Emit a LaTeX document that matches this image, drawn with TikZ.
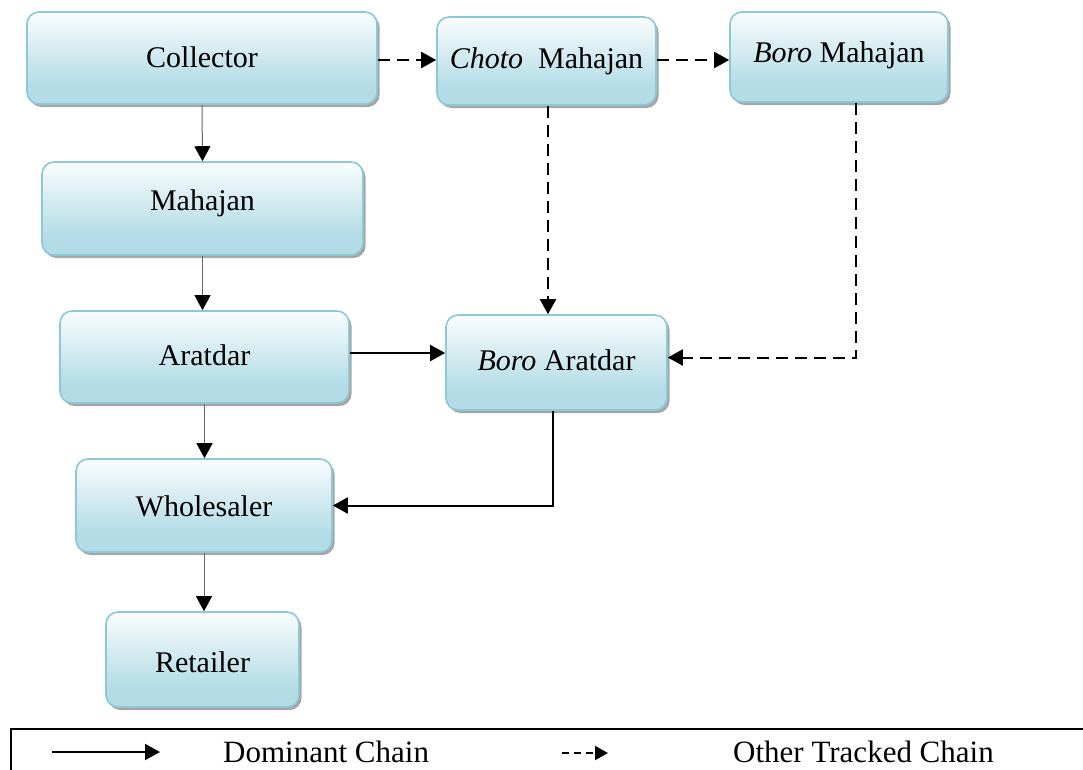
\documentclass[tikz,border=0pt]{standalone}
\usepackage{fontspec}
\setmainfont{Liberation Serif}
\usetikzlibrary{arrows.meta,shadows,calc}
\definecolor{boxline}{HTML}{8CC8D8}
\definecolor{boxblue}{HTML}{B3DCE6}
\pgfdeclareverticalshading{boxshade}{100bp}{color(0bp)=(boxblue); color(35bp)=(boxblue); color(78bp)=(white); color(100bp)=(white)}
\tikzset{
  box/.style={draw=boxline, line width=1.6pt, rounded corners=12pt, shading=boxshade,
    drop shadow={shadow xshift=2.5pt, shadow yshift=-3pt, fill=gray!70, opacity=1},
    inner sep=0pt},
  txt/.style={font=\fontsize{30}{36}\selectfont, inner sep=0pt},
  ltxt/.style={font=\fontsize{31}{37}\selectfont, inner sep=0pt},
  tip/.style={-{Triangle[length=15pt,width=16pt,color=black]}},
  dom/.style={tip, draw=gray!80!black, line width=1pt},
  domb/.style={tip, draw=black, line width=2pt},
  oth/.style={tip, draw=black, line width=2pt, dash pattern=on 12pt off 7pt},
}
\begin{document}
\begin{tikzpicture}[x=1pt,y=-1pt]
\useasboundingbox (0,0) rectangle (1083,769);
% nodes
\node[box, minimum width=350pt, minimum height=92pt, label={[txt,yshift=1pt]center:Collector}] (col) at (202,58) {};
\node[box, minimum width=321pt, minimum height=93pt, label={[txt,yshift=5pt]center:Mahajan}] (mah) at (202.5,208.5) {};
\node[box, minimum width=289pt, minimum height=92pt, label={[txt,yshift=2pt]center:Aratdar}] (ara) at (204.5,357) {};
\node[box, minimum width=221pt, minimum height=95pt, label={[txt,yshift=2pt]center:\textit{Boro} Aratdar}] (bara) at (556.5,362.5) {};
\node[box, minimum width=256pt, minimum height=93pt, label={[txt,yshift=-1pt]center:Wholesaler}] (who) at (204,505.5) {};
\node[box, minimum width=193pt, minimum height=95pt, label={[txt,yshift=-3pt]center:Retailer}] (ret) at (202.5,659.5) {};
\node[box, minimum width=219pt, minimum height=88pt, label={[txt,yshift=0pt]center:\textit{Choto}\ \ Mahajan}] (cmah) at (546.5,61) {};
\node[box, minimum width=218pt, minimum height=90pt, label={[txt,yshift=2pt]center:\textit{Boro} Mahajan}] (bmah) at (839,57) {};
% dominant chain
\draw[dom] (col.south) -- (mah.north);
\draw[dom] (mah.south) -- (mah.south |- ara.north);
\draw[dom] (ara.south) -- (ara.south |- who.north);
\draw[dom] (who.south) -- (who.south |- ret.north);
\draw[domb] ([yshift=4pt]ara.east) -- ([yshift=4pt]ara.east -| bara.west);
\draw[domb] ([xshift=-4pt]bara.south) |- (who.east);
% other chain
\draw[oth] ([yshift=-2pt]col.east) -- ([yshift=-2pt]col.east -| cmah.west);
\draw[oth] ([yshift=1pt]cmah.east) -- ([yshift=1pt]cmah.east -| bmah.west);
\draw[oth] ([xshift=1.5pt]cmah.south) -- ([xshift=1.5pt]cmah.south |- bara.north);
\draw[oth] ([xshift=17pt]bmah.south) |- ([yshift=5pt]bara.east);
% legend
\draw[line width=1.5pt] (11,729) rectangle (1100,800);
\coordinate (l1a) at (52,752);
\coordinate (l1b) at (160,752);
\coordinate (l2a) at (562,753);
\coordinate (l2b) at (608,753);
\draw[domb] (l1a) -- (l1b);
\draw[-{Triangle[length=13pt,width=14pt]}, line width=2pt, dash pattern=on 7pt off 5pt] (l2a) -- (l2b);
\node[ltxt, anchor=west] (ldom) at (223,752) {Dominant Chain};
\node[ltxt, anchor=west] (loth) at (733,752) {Other Tracked Chain};
\end{tikzpicture}
\end{document}
